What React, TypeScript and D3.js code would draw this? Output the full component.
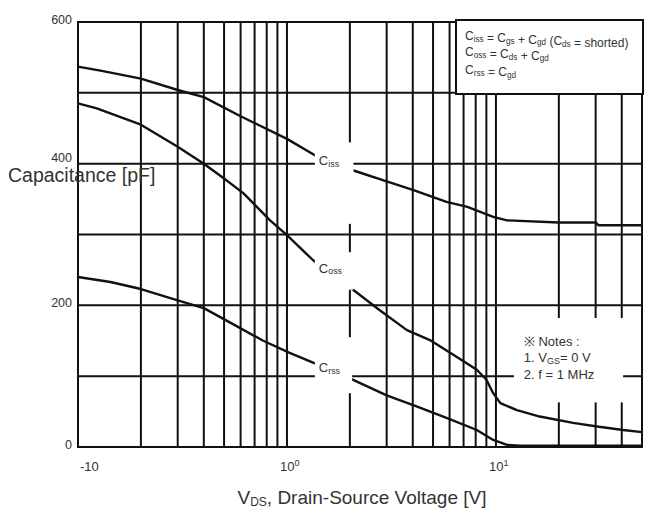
import React from "react";
import * as d3 from "d3";

// Curve data (VDS in volts, capacitance in pF)
const cissV = [0.1, 0.13, 0.2, 0.3, 0.4, 0.6, 1.0, 1.36, 2.1, 3, 4, 5.8, 7.3, 9.7, 11.3, 20, 30, 31, 50];
const cissC = [537, 531, 520, 504, 494, 467, 435, 412, 390, 375, 363, 346, 339, 325, 320, 317, 317, 313, 313];

const cossV = [0.1, 0.123, 0.2, 0.3, 0.4, 0.5, 0.62, 0.83, 1.0, 1.33, 2.05, 2.78, 3.75, 4.83, 6.5, 8.1, 9.0, 9.7, 10.5, 12.6, 16.2, 23.4, 30.5, 40.6, 50];
const cossC = [485, 478, 455, 424, 400, 379, 358, 320, 299, 264, 223, 193, 165, 151, 127, 109, 95, 76, 62, 52, 43, 34, 29, 24, 21];

const crssV = [0.1, 0.143, 0.2, 0.3, 0.4, 0.58, 0.77, 1.03, 1.36, 2.0, 3.0, 4.2, 5.8, 8.1, 9.7, 11.3, 13, 50];
const crssC = [240, 233, 223, 207, 196, 170, 150, 133, 118, 97, 73, 57, 41, 24, 10, 3, 2, 2];

const yTicks = [0, 200, 400, 600];
const yGrid = [100, 200, 300, 400, 500];
const xGrid = [0.2, 0.3, 0.4, 0.5, 0.6, 0.7, 0.8, 0.9, 1, 2, 3, 4, 5, 6, 7, 8, 9, 10, 20, 30, 40];
const xTickLabels = [
  { v: 0.1, base: "-10", exp: "" },
  { v: 1, base: "10", exp: "0" },
  { v: 10, base: "10", exp: "1" },
];

const W = 649;
const H = 515;
const margin = { top: 22, right: 7, bottom: 68, left: 78 };
const font = "Liberation Sans, Arial, sans-serif";
const txt = "#333";

const Sub = ({ main, sub, size }: { main: string; sub: string; size: number }) => (
  <>
    <tspan>{main}</tspan>
    <tspan fontSize={size * 0.68} dy={size * 0.15}>{sub}</tspan>
    <tspan dy={-size * 0.15}></tspan>
  </>
);

export default function App() {
  const x = d3.scaleLog().domain([0.1, 50]).range([margin.left, W - margin.right]);
  const y = d3.scaleLinear().domain([0, 600]).range([H - margin.bottom, margin.top]);

  const line = (vs: number[], cs: number[]) =>
    d3
      .line<number>()
      .x((_, i) => x(vs[i]))
      .y((c) => y(c))(cs) as string;

  const x0 = x(0.1);
  const x1 = x(50);
  const y0 = y(0);
  const y1 = y(600);

  // label knock-out boxes (in data coords so they follow the scales)
  const labelBoxes = [
    { v0: 1.36, v1: 2.08, c0: 315, c1: 430, sub: "iss", c: 404 },
    { v0: 1.36, v1: 2.08, c0: 222, c1: 275, sub: "oss", c: 252 },
    { v0: 1.36, v1: 2.05, c0: 76, c1: 155, sub: "rss", c: 112 },
  ];

  return (
    <div style={{ position: "absolute", left: 0, top: 0 }}>
      <svg width={W} height={H} style={{ display: "block", background: "#fff" }}>
        {/* grid */}
        <g stroke="#111" strokeWidth={2}>
          {xGrid.map((v) => (
            <line key={"gx" + v} x1={x(v)} x2={x(v)} y1={y0} y2={y1} />
          ))}
          {yGrid.map((c) => (
            <line key={"gy" + c} x1={x0} x2={x1} y1={y(c)} y2={y(c)} />
          ))}
        </g>

        {/* curves */}
        <g fill="none" stroke="#111" strokeWidth={2.4} strokeLinejoin="round">
          <path d={line(cissV, cissC)} />
          <path d={line(cossV, cossC)} />
          <path d={line(crssV, crssC)} />
        </g>

        {/* curve labels with white knock-outs */}
        {labelBoxes.map((b) => (
          <g key={b.sub}>
            <rect x={x(b.v0)} y={y(b.c1)} width={x(b.v1) - x(b.v0)} height={y(b.c0) - y(b.c1)} fill="#fff" />
            <text x={x(b.v0) + 4} y={y(b.c) + 4} fontFamily={font} fontSize={13} fill={txt}>
              <Sub main="C" sub={b.sub} size={13} />
            </text>
          </g>
        ))}

        {/* notes box knock-out */}
        <rect x={x(12.2)} y={y(182)} width={x(40.6) - x(12.2)} height={y(63) - y(182)} fill="#fff" />
        <g fontFamily={font} fontSize={13} fill={txt}>
          <text x={x(13.6)} y={y(143)}>※  Notes :</text>
          <text x={x(13.6)} y={y(120)}>
            1. V<tspan fontSize={9} dy={2}>GS</tspan>
            <tspan dy={-2}>= 0 V</tspan>
          </text>
          <text x={x(13.6)} y={y(96)}>2. f = 1 MHz</text>
        </g>

        {/* border */}
        <rect x={x0} y={y1} width={x1 - x0} height={y0 - y1} fill="none" stroke="#111" strokeWidth={2} />

        {/* legend box */}
        <rect x={456} y={20} width={W - 6 - 456} height={74} fill="#fff" stroke="#111" strokeWidth={2} />
        <g fontFamily={font} fontSize={12} fill={txt}>
          <text x={465} y={40}>
            <Sub main="C" sub="iss" size={12} />
            <tspan> = </tspan>
            <Sub main="C" sub="gs" size={12} />
            <tspan> + </tspan>
            <Sub main="C" sub="gd" size={12} />
            <tspan> (</tspan>
            <Sub main="C" sub="ds" size={12} />
            <tspan> = shorted)</tspan>
          </text>
          <text x={465} y={56}>
            <Sub main="C" sub="oss" size={12} />
            <tspan> = </tspan>
            <Sub main="C" sub="ds" size={12} />
            <tspan> + </tspan>
            <Sub main="C" sub="gd" size={12} />
          </text>
          <text x={465} y={74}>
            <Sub main="C" sub="rss" size={12} />
            <tspan> = </tspan>
            <Sub main="C" sub="gd" size={12} />
          </text>
        </g>

        {/* y tick labels */}
        <g fontFamily={font} fontSize={12.5} fill={txt} textAnchor="end">
          {yTicks.map((c) => (
            <text key={"yt" + c} x={x0 - 6} y={y(c) + (c === 400 ? -2 : 2)}>
              {c}
            </text>
          ))}
        </g>

        {/* x tick labels */}
        <g fontFamily={font} fontSize={13} fill={txt}>
          {xTickLabels.map((t, i) => (
            <text key={"xt" + i} x={x(t.v) + (i === 0 ? 2 : -7)} y={y0 + 24}>
              {t.base}
              {t.exp && (
                <tspan fontSize={9} dy={-5}>
                  {t.exp}
                </tspan>
              )}
            </text>
          ))}
        </g>

        {/* axis titles */}
        <text x={8} y={182} fontFamily={font} fontSize={19.5} fill={txt}>
          Capacitance [pF]
        </text>
        <text x={362} y={504} fontFamily={font} fontSize={19} fill={txt} textAnchor="middle">
          V<tspan fontSize={12} dy={2}>DS</tspan>
          <tspan dy={-2}>, Drain-Source Voltage [V]</tspan>
        </text>
      </svg>
    </div>
  );
}
